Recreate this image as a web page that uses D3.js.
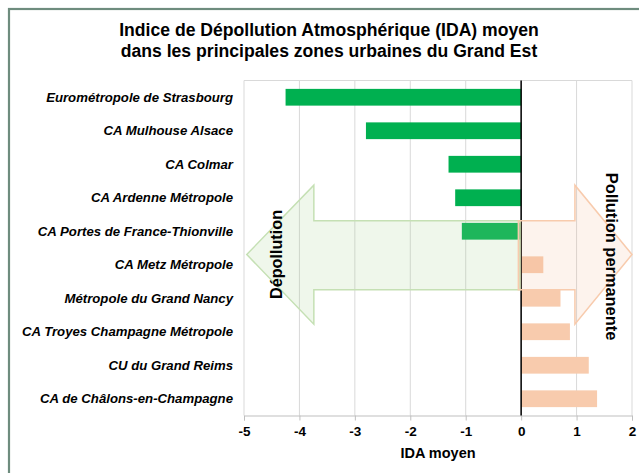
<!DOCTYPE html>
<html><head><meta charset="utf-8">
<script src="https://cdn.jsdelivr.net/npm/d3@7"></script>
<style>body{margin:0;background:#fff}svg{display:block;font-family:"Liberation Sans",Arial,sans-serif}</style>
</head><body>
<svg id="c" width="639" height="473"></svg>
<script>
const categories = ["Eurométropole de Strasbourg","CA Mulhouse Alsace","CA Colmar","CA Ardenne Métropole","CA Portes de France-Thionville","CA Metz Métropole","Métropole du Grand Nancy","CA Troyes Champagne Métropole","CU du Grand Reims","CA de Châlons-en-Champagne"];
const values = [-4.25,-2.80,-1.31,-1.19,-1.07,0.40,0.71,0.88,1.22,1.37];
const xTicks = [-5,-4,-3,-2,-1,0,1,2];
const titleLines = ["Indice de Dépollution Atmosphérique (IDA) moyen","dans les principales zones urbaines du Grand Est"];

const svg = d3.select("#c");
const m = {left:244, right:632, top:80.5, bottom:415.5};
const x = d3.scaleLinear().domain([-5,2]).range([m.left,m.right]);
const y = d3.scaleBand().domain(categories).range([m.top,m.bottom]).paddingInner(0.5).paddingOuter(0.25);

// frame
svg.append("rect").attr("x",9).attr("y",9).attr("width",700).attr("height",600)
  .attr("fill","none").attr("stroke","#6e8c7e").attr("stroke-width",2.2);

// title
svg.append("g").selectAll("text").data(titleLines).join("text")
  .attr("x",329).attr("y",(d,i)=>36+i*21).attr("text-anchor","middle")
  .attr("font-size",17.6).attr("font-weight","bold").attr("fill","#000").text(d=>d);

// gridlines
svg.append("g").selectAll("line").data(xTicks).join("line")
  .attr("x1",d=>x(d)).attr("x2",d=>x(d)).attr("y1",m.top).attr("y2",m.bottom)
  .attr("stroke","#d9d9d9").attr("stroke-width",1);
svg.append("line").attr("x1",m.left).attr("x2",m.right).attr("y1",m.top).attr("y2",m.top)
  .attr("stroke","#d9d9d9");

// bars
svg.append("g").selectAll("rect").data(values).join("rect")
  .attr("x",d=>x(Math.min(0,d))).attr("width",d=>Math.abs(x(d)-x(0)))
  .attr("y",(d,i)=>y(categories[i])).attr("height",y.bandwidth())
  .attr("fill",d=>d<0?"#00b050":"#f8cbad");

// x axis
const xa = svg.append("g").attr("transform",`translate(0,${m.bottom})`)
  .call(d3.axisBottom(x).tickValues(xTicks).tickFormat(d=>String(d)).tickSize(5).tickPadding(6));
xa.select(".domain").attr("stroke","#bfbfbf");
xa.selectAll(".tick line").attr("stroke","#bfbfbf");
xa.selectAll(".tick text").attr("font-size",13.5).attr("font-weight","bold").attr("fill","#000")
  .attr("font-family","Liberation Sans, Arial, sans-serif");
svg.append("text").attr("x",438).attr("y",458).attr("text-anchor","middle")
  .attr("font-size",14.5).attr("font-weight","bold").text("IDA moyen");

// zero line
svg.append("line").attr("x1",x(0)).attr("x2",x(0)).attr("y1",m.top).attr("y2",m.bottom)
  .attr("stroke","#000").attr("stroke-width",1.5);

// y labels
svg.append("g").selectAll("text").data(categories).join("text")
  .attr("x",233).attr("y",d=>y(d)+y.bandwidth()/2).attr("dy","0.35em")
  .attr("text-anchor","end").attr("font-size",13.2).attr("font-weight","bold")
  .attr("font-style","italic").attr("fill","#000").text(d=>d);

// arrows (shape in data units on x, fractions of plot height on y)
const H = m.bottom-m.top;
const fy = f => m.top + f*H;
const headTop = fy(0.3125), headBot = fy(0.7274), shaftTop = fy(0.4185), shaftBot = fy(0.6244), mid = fy(0.5194);
const leftArrow = [[-4.95,mid],[-3.74,headTop],[-3.74,shaftTop],[-0.02,shaftTop],[-0.02,shaftBot],[-3.74,shaftBot],[-3.74,headBot]];
const rightArrow = [[-0.05,shaftTop],[0.97,shaftTop],[0.97,headTop],[2.0,mid],[0.97,headBot],[0.97,shaftBot],[-0.05,shaftBot]];
const line = d3.line().x(d=>x(d[0])).y(d=>d[1]);
svg.append("path").attr("d",line(leftArrow)+"Z").attr("fill","#a9d18e").attr("fill-opacity",0.18)
  .attr("stroke","#c5e0b4").attr("stroke-width",1.5);
svg.append("path").attr("d",line(rightArrow)+"Z").attr("fill","#f4b183").attr("fill-opacity",0.15)
  .attr("stroke","#f8cbad").attr("stroke-width",1.5);

svg.append("text").attr("transform",`translate(${x(-4.42)},${mid}) rotate(-90)`).attr("dy","0.35em")
  .attr("text-anchor","middle").attr("font-size",16.2).attr("font-weight","bold").text("Dépollution");
svg.append("text").attr("transform",`translate(${x(1.63)},${mid+2}) rotate(90)`).attr("dy","0.35em")
  .attr("text-anchor","middle").attr("font-size",16.4).attr("font-weight","bold").text("Pollution permanente");
</script>
</body></html>
